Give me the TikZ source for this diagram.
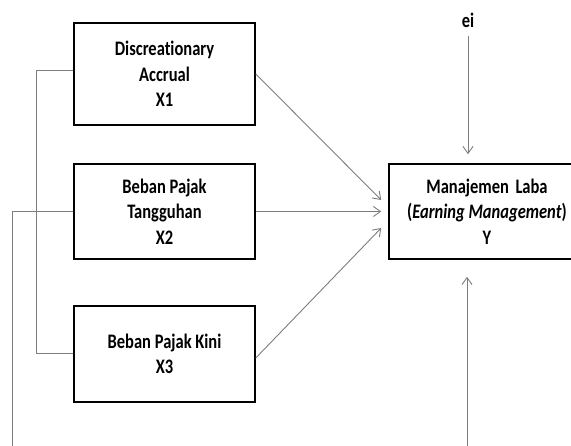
\documentclass[tikz,border=0pt]{standalone}
\usepackage{graphicx}
\usepackage{fontspec}
\setmainfont{Carlito}[Ligatures=NoCommon]
\usetikzlibrary{arrows.meta,calc}
\definecolor{linegray}{RGB}{125,125,125}
\newcommand\tl[1]{\scalebox{1}[1.25]{#1}}
\begin{document}
\begin{tikzpicture}[x=1pt,y=-1pt,
  varbox/.style={draw=black,line width=1.6pt,fill=white,align=center,inner sep=0pt,
    font=\fontsize{16.5}{25.5}\selectfont\bfseries},
  conn/.style={draw=linegray,line width=0.9pt},
  arr/.style={conn,-{Straight Barb[length=7pt,width=10pt,line width=0.9pt]}}]
\useasboundingbox (0,0) rectangle (571,446);
\clip (0,0) rectangle (571,446);
\node[varbox,minimum width=181pt,minimum height=102pt] (X1) at (164.5,74) {\tl{Discreationary}\\\tl{Accrual}\\\tl{X1}};
\node[varbox,minimum width=181pt,minimum height=95pt] (X2) at (164.5,211.5) {\tl{Beban Pajak}\\\tl{Tangguhan}\\\tl{X2}};
\node[varbox,minimum width=181pt,minimum height=96pt] (X3) at (164.5,354) {\tl{Beban Pajak Kini}\\\tl{X3}};
\node[varbox,minimum width=196pt,minimum height=95pt] (Y) at (487,211.5) {\tl{Manajemen\ \,Laba}\\\tl{(\textit{Earning Management})}\\\tl{Y}};
\node[font=\fontsize{16.5}{24}\selectfont\bfseries,inner sep=0pt] (ei) at (468,20) {\tl{ei}};
% left bracket
\coordinate (b1) at (36,70);
\coordinate (b2) at (36,353);
\draw[conn] ($(X1.west)+(0,-4)$) -- (b1) -- (b2) -- ($(X3.west)+(0,-1)$);
% outer path from X2 to Y bottom
\coordinate (o1) at (12,211.5);
\coordinate (o2) at (12,480);
\coordinate (o3) at (467,480);
\draw[arr,shorten >=17pt] (X2.west) -- (o1) -- (o2) -- (o3) -- (o3 |- Y.south);
% arrows into Y
\draw[arr] (X1.east) -- ($(Y.west)+(-7,-11.5)$);
\draw[arr] (X2.east) -- ($(Y.west)+(-7,0)$);
\draw[arr] ($(X3.east)+(0,4)$) -- ($(Y.west)+(-7,16.5)$);
\draw[arr,shorten >=9pt] ($(ei.south)+(0,8)$) -- (ei |- Y.north);
\end{tikzpicture}
\end{document}
